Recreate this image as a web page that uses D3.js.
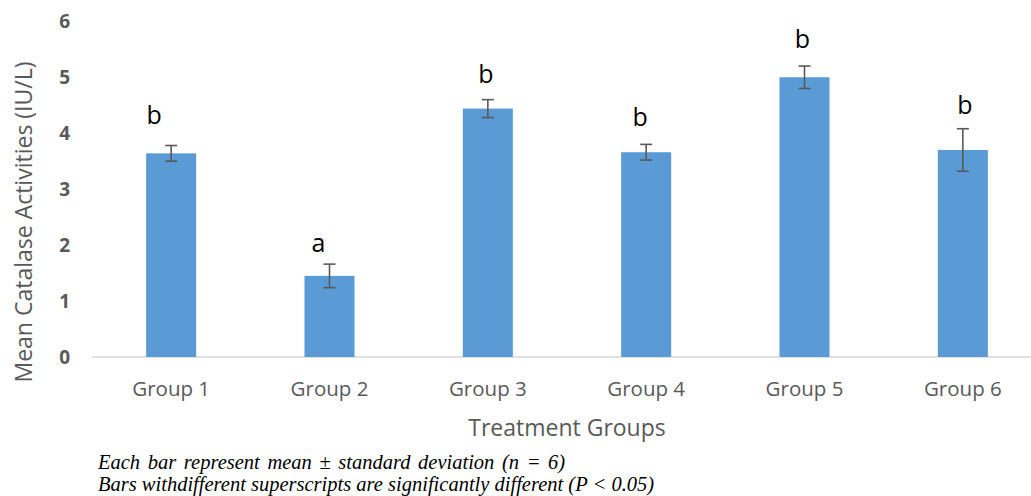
<!DOCTYPE html>
<html>
<head>
<meta charset="utf-8">
<script src="https://cdn.jsdelivr.net/npm/d3@7"></script>
<style>
  html, body { margin: 0; padding: 0; background: #fff; overflow: hidden; }
  svg { display: block; }
</style>
</head>
<body>
<svg id="chart" width="1031" height="496"></svg>
<script>
// Catalase activity per treatment group (mean ± SD, n = 6)
const groups = ["Group 1", "Group 2", "Group 3", "Group 4", "Group 5", "Group 6"];
const means = [3.64, 1.45, 4.44, 3.66, 5.00, 3.70];
const sds = [0.14, 0.21, 0.16, 0.14, 0.20, 0.38];
const superscripts = ["b", "a", "b", "b", "b", "b"];
const yTicks = [0, 1, 2, 3, 4, 5, 6];

// hand placement of the superscript letters relative to each error bar top
const letterNudge = [[-17, -22], [-11, -12], [-2, -17], [-6, -18], [-2, -18], [2, -15]];

const W = 1031, H = 496;
const svg = d3.select("#chart");
const gray = "#595959";

const x = d3.scaleBand().domain(groups).range([92, 1042]).paddingInner(0.684).paddingOuter(0.342);
const y = d3.scaleLinear().domain([0, 6]).range([357, 21.3]);

// baseline
svg.append("line")
  .attr("x1", 92).attr("x2", W)
  .attr("y1", y(0)).attr("y2", y(0))
  .attr("stroke", "#d9d9d9").attr("stroke-width", 1.5);

// y axis tick labels (no axis line, no tick marks)
const yAxis = d3.axisLeft(y).tickValues(yTicks).tickSize(0).tickPadding(0).tickFormat(d3.format("d"));
const gy = svg.append("g").attr("transform", "translate(70,0)").call(yAxis);
gy.select(".domain").remove();
gy.selectAll("text")
  .attr("fill", gray)
  .attr("font-family", "'Open Sans', sans-serif")
  .attr("font-weight", "bold")
  .attr("font-size", 19)
  .attr("dy", "0.35em");

// x axis category labels
const xAxis = d3.axisBottom(x).tickSize(0).tickPadding(0);
const gx = svg.append("g").attr("transform", "translate(0,396)").call(xAxis);
gx.select(".domain").remove();
gx.selectAll("text")
  .attr("fill", gray)
  .attr("font-family", "'Open Sans', sans-serif")
  .attr("font-size", 20.5)
  .attr("dy", 0)
  .attr("y", 0);

// bars
svg.append("g").selectAll("rect")
  .data(groups)
  .join("rect")
  .attr("x", d => x(d))
  .attr("width", x.bandwidth())
  .attr("y", (d, i) => y(means[i]))
  .attr("height", (d, i) => y(0) - y(means[i]))
  .attr("fill", "#5b9bd5");

// error bars
const eb = svg.append("g").attr("stroke", gray).attr("stroke-width", 1.6).attr("fill", "none");
groups.forEach((g, i) => {
  const cx = x(g) + x.bandwidth() / 2;
  const top = y(means[i] + sds[i]);
  const bot = y(means[i] - sds[i]);
  eb.append("line").attr("x1", cx).attr("x2", cx).attr("y1", top).attr("y2", bot);
  eb.append("line").attr("x1", cx - 6).attr("x2", cx + 6).attr("y1", top).attr("y2", top);
  eb.append("line").attr("x1", cx - 6).attr("x2", cx + 6).attr("y1", bot).attr("y2", bot);
});

// significance letters
svg.append("g").selectAll("text")
  .data(groups)
  .join("text")
  .attr("x", (d, i) => x(d) + x.bandwidth() / 2 + letterNudge[i][0])
  .attr("y", (d, i) => y(means[i] + sds[i]) + letterNudge[i][1])
  .attr("text-anchor", "middle")
  .attr("font-family", "'Open Sans', sans-serif")
  .attr("font-size", 25)
  .attr("fill", "#000")
  .text((d, i) => superscripts[i]);

// axis titles
svg.append("text")
  .attr("x", 567).attr("y", 436)
  .attr("text-anchor", "middle")
  .attr("font-family", "'Open Sans', sans-serif")
  .attr("font-size", 23)
  .attr("fill", gray)
  .text("Treatment Groups");

svg.append("text")
  .attr("transform", "translate(32,222) rotate(-90)")
  .attr("text-anchor", "middle")
  .attr("font-family", "'Open Sans', sans-serif")
  .attr("font-size", 23)
  .attr("fill", gray)
  .text("Mean Catalase Activities (IU/L)");

// footnotes
const notes = [
  "Each bar represent mean \u00b1 standard deviation (n = 6)",
  "Bars withdifferent superscripts are significantly different (P < 0.05)"
];
svg.append("g").selectAll("text")
  .data(notes)
  .join("text")
  .attr("x", 98)
  .attr("y", (d, i) => 469 + i * 22)
  .attr("font-family", "'Liberation Serif', 'Times New Roman', serif")
  .attr("font-style", "italic")
  .attr("font-size", 20.5)
  .attr("word-spacing", (d, i) => i === 0 ? 2.5 : 0)
  .attr("fill", "#000")
  .text(d => d);
</script>
</body>
</html>
